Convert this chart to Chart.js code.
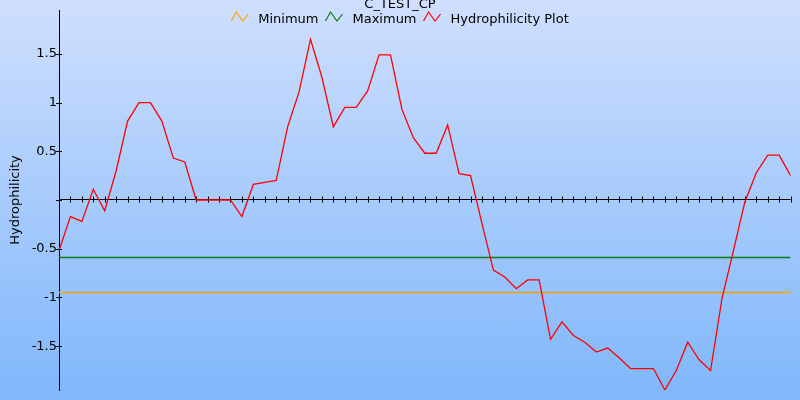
<!DOCTYPE html>
<html>
<head>
<meta charset="utf-8">
<title>C_TEST_CP</title>
<script src="https://cdn.jsdelivr.net/npm/chart.js@4/dist/chart.umd.min.js"></script>
<style>
    body { margin: 0; }
    #wrap {
        width: 800px;
        height: 400px;
        background: linear-gradient(to bottom, #cfdffd, #7fb7fb);
    }
</style>
</head>
<body>
<div id="wrap"><canvas id="myChart" width="800" height="400"></canvas></div>
<script>
const chartTitle = 'C_TEST_CP';
const axisTitle = 'Hydrophilicity';
const seriesNames = ['Minimum', 'Maximum', 'Hydrophilicity Plot'];
const seriesColors = ['#ffa500', '#0f7a14', '#ff0000'];

// values, one per residue window
const hydrophilicity = [
    -0.52, -0.17, -0.22, 0.11, -0.11, 0.30, 0.81, 1.00, 1.00, 0.81,
    0.43, 0.39, 0, 0, 0, 0, -0.17, 0.16, 0.18, 0.20,
    0.75, 1.11, 1.65, 1.26, 0.75, 0.95, 0.95, 1.12, 1.49, 1.49,
    0.93, 0.64, 0.48, 0.48, 0.77, 0.27, 0.25, -0.24, -0.72, -0.79,
    -0.91, -0.82, -0.82, -1.43, -1.25, -1.39, -1.46, -1.56, -1.52, -1.62,
    -1.73, -1.73, -1.73, -1.95, -1.75, -1.46, -1.64, -1.75, -1.01, -0.52,
    -0.02, 0.28, 0.46, 0.46, 0.25
];
const positions = hydrophilicity.map((_, i) => i + 1);
const minimumValue = -0.95;
const maximumValue = -0.59;
const yTicks = [-1.5, -1, -0.5, 0, 0.5, 1, 1.5];

const firstPos = positions[0];
const lastPos = positions[positions.length - 1];

// axis through zero, tick marks, title and zigzag legend
const decorations = {
    id: 'decorations',
    beforeDatasetsDraw(chart) {
        const { ctx, chartArea, scales: { x, y } } = chart;
        const y0 = Math.round(y.getPixelForValue(0)) - 0.5;
        ctx.save();
        ctx.strokeStyle = '#000';
        ctx.lineWidth = 1;
        ctx.beginPath();
        ctx.moveTo(chartArea.left, y0);
        ctx.lineTo(chartArea.right, y0);
        positions.slice(1).forEach(p => {
            const px = Math.round(x.getPixelForValue(p)) + 0.5;
            ctx.moveTo(px, y0 - 3);
            ctx.lineTo(px, y0 + 3);
        });
        yTicks.forEach(v => {
            const py = Math.round(y.getPixelForValue(v)) + 0.5;
            ctx.moveTo(chartArea.left - 3, py);
            ctx.lineTo(chartArea.left + 3, py);
        });
        ctx.stroke();
        ctx.restore();
    },
    afterDraw(chart) {
        const ctx = chart.ctx;
        ctx.save();
        ctx.font = '13px "DejaVu Sans"';
        ctx.fillStyle = '#000';
        ctx.textBaseline = 'alphabetic';
        ctx.textAlign = 'center';
        ctx.fillText(chartTitle, chart.width / 2, 8);

        ctx.textAlign = 'left';
        const widths = chart.data.datasets.map(ds => ctx.measureText(ds.label).width);
        const total = widths.reduce((s, w) => s + w + 34, 0) - 7;
        let left = chart.width / 2 - total / 2;
        chart.data.datasets.forEach((ds, i) => {
            ctx.strokeStyle = ds.borderColor;
            ctx.lineWidth = 1.2;
            ctx.beginPath();
            ctx.moveTo(left, 21);
            ctx.lineTo(left + 5, 12);
            ctx.lineTo(left + 11.5, 21);
            ctx.lineTo(left + 17, 14);
            ctx.stroke();
            ctx.fillText(ds.label, left + 27, 22.5);
            left += widths[i] + 34;
        });
        ctx.restore();
    }
};

Chart.defaults.font.family = '"DejaVu Sans", sans-serif';
Chart.defaults.font.size = 13;
Chart.defaults.color = '#000';

const ctx = document.getElementById('myChart').getContext('2d');
const myChart = new Chart(ctx, {
    type: 'line',
    data: {
        labels: positions,
        datasets: [
            {
                label: seriesNames[0],
                data: [{ x: firstPos, y: minimumValue }, { x: lastPos, y: minimumValue }],
                borderColor: seriesColors[0],
                borderWidth: 1.5,
                pointRadius: 0,
                order: 2
            },
            {
                label: seriesNames[1],
                data: [{ x: firstPos, y: maximumValue }, { x: lastPos, y: maximumValue }],
                borderColor: seriesColors[1],
                borderWidth: 1.5,
                pointRadius: 0,
                order: 1
            },
            {
                label: seriesNames[2],
                data: hydrophilicity,
                borderColor: seriesColors[2],
                borderWidth: 1.3,
                pointRadius: 0,
                tension: 0,
                order: 0
            }
        ]
    },
    options: {
        responsive: false,
        animation: false,
        layout: { padding: { top: 10, right: 9.4, bottom: 10, left: 0 } },
        plugins: {
            legend: { display: false },
            title: { display: false },
            tooltip: { enabled: false }
        },
        scales: {
            x: {
                type: 'linear',
                min: firstPos,
                max: lastPos,
                display: false
            },
            y: {
                min: -1.95,
                max: 1.95,
                afterBuildTicks: scale => {
                    scale.ticks = yTicks.map(v => ({ value: v }));
                },
                afterFit: scale => {
                    scale.width = 59;
                },
                grid: { display: false, drawTicks: false },
                border: { display: true, color: '#000', width: 1 },
                ticks: {
                    padding: 2,
                    callback: v => (v === 0 ? '' : String(v))
                },
                title: {
                    display: true,
                    text: axisTitle,
                    padding: { top: 8, bottom: 0 }
                }
            }
        }
    },
    plugins: [decorations]
});
</script>
</body>
</html>
